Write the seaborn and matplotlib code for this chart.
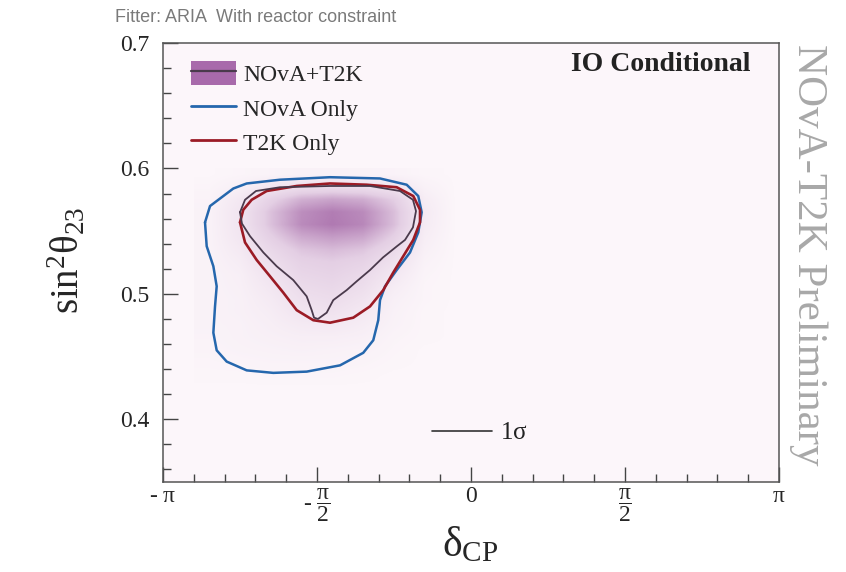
import numpy as np
import pandas as pd
import matplotlib
matplotlib.use('Agg')
import matplotlib.pyplot as plt
from matplotlib.colors import LinearSegmentedColormap
from matplotlib.patches import Rectangle
from matplotlib.lines import Line2D
from matplotlib.ticker import MultipleLocator
import seaborn as sns

sns.set_style('ticks')
plt.rcParams['font.family'] = ['Liberation Serif', 'DejaVu Serif']
plt.rcParams['mathtext.fontset'] = 'custom'
plt.rcParams['mathtext.rm'] = 'Liberation Serif'
plt.rcParams['mathtext.it'] = 'Liberation Serif:italic'
plt.rcParams['mathtext.default'] = 'rm'

# ---- data ----
# 2D posterior (NOvA+T2K), relative density per bin
dcp_centers = [-2.67, -2.36, -2.04, -1.73, -1.41, -1.10, -0.79, -0.47, -0.16]
s23_centers = [0.595, 0.585, 0.575, 0.565, 0.555, 0.545, 0.535, 0.525, 0.515,
               0.505, 0.495, 0.485, 0.475, 0.465, 0.455, 0.445, 0.435, 0.425]
density = [
    [0.00, 0.02, 0.04, 0.06, 0.06, 0.05, 0.04, 0.01, 0.00],
    [0.02, 0.08, 0.20, 0.30, 0.32, 0.30, 0.22, 0.06, 0.00],
    [0.04, 0.18, 0.45, 0.68, 0.75, 0.70, 0.50, 0.12, 0.00],
    [0.05, 0.22, 0.58, 0.88, 0.98, 0.90, 0.60, 0.15, 0.00],
    [0.05, 0.22, 0.58, 0.90, 1.00, 0.92, 0.60, 0.14, 0.00],
    [0.05, 0.20, 0.48, 0.72, 0.80, 0.74, 0.48, 0.11, 0.00],
    [0.05, 0.16, 0.38, 0.56, 0.62, 0.56, 0.36, 0.08, 0.00],
    [0.05, 0.12, 0.30, 0.46, 0.50, 0.44, 0.26, 0.05, 0.00],
    [0.05, 0.09, 0.24, 0.40, 0.44, 0.36, 0.18, 0.03, 0.00],
    [0.05, 0.08, 0.19, 0.34, 0.38, 0.30, 0.12, 0.02, 0.00],
    [0.05, 0.07, 0.15, 0.28, 0.32, 0.23, 0.08, 0.02, 0.00],
    [0.05, 0.07, 0.12, 0.22, 0.25, 0.17, 0.06, 0.01, 0.00],
    [0.05, 0.06, 0.10, 0.15, 0.17, 0.12, 0.05, 0.01, 0.00],
    [0.04, 0.06, 0.08, 0.10, 0.10, 0.08, 0.03, 0.01, 0.00],
    [0.03, 0.05, 0.06, 0.07, 0.06, 0.05, 0.02, 0.00, 0.00],
    [0.02, 0.03, 0.04, 0.04, 0.04, 0.03, 0.01, 0.00, 0.00],
    [0.01, 0.01, 0.02, 0.02, 0.02, 0.01, 0.00, 0.00, 0.00],
    [0.00, 0.00, 0.00, 0.00, 0.00, 0.00, 0.00, 0.00, 0.00],
]

# 1 sigma contours (delta_CP, sin^2 theta_23)
nova_dcp = [-2.713, -2.662, -2.424, -2.288, -1.948, -1.438, -0.928, -0.656, -0.538,
            -0.503, -0.538, -0.622, -0.758, -0.877, -0.928, -0.946, -0.997, -1.099,
            -1.336, -1.676, -2.017, -2.288, -2.492, -2.594, -2.628, -2.611, -2.594,
            -2.628, -2.696]
nova_s23 = [0.557, 0.570, 0.584, 0.588, 0.591, 0.593, 0.592, 0.587, 0.578,
            0.565, 0.549, 0.533, 0.519, 0.506, 0.495, 0.479, 0.463, 0.453,
            0.443, 0.438, 0.437, 0.439, 0.446, 0.455, 0.469, 0.490, 0.506,
            0.522, 0.538]

t2k_dcp = [-2.356, -2.323, -2.237, -2.084, -1.778, -1.438, -1.064, -0.758, -0.589,
           -0.520, -0.520, -0.589, -0.691, -0.793, -0.895, -1.030, -1.201, -1.438,
           -1.609, -1.778, -1.915, -2.050, -2.186, -2.305]
t2k_s23 = [0.557, 0.567, 0.575, 0.582, 0.586, 0.588, 0.587, 0.585, 0.578,
           0.567, 0.557, 0.543, 0.530, 0.517, 0.503, 0.490, 0.481, 0.477,
           0.479, 0.487, 0.501, 0.514, 0.527, 0.541]

joint_dcp = [-2.356, -2.305, -2.193, -1.948, -1.438, -1.030, -0.724, -0.592, -0.561,
             -0.592, -0.673, -0.755, -0.898, -1.030, -1.166, -1.268, -1.405, -1.472,
             -1.561, -1.601, -1.625, -1.676, -1.813, -1.982, -2.118, -2.254, -2.336]
joint_s23 = [0.565, 0.575, 0.582, 0.585, 0.586, 0.586, 0.582, 0.575, 0.566,
             0.553, 0.543, 0.538, 0.529, 0.519, 0.510, 0.503, 0.495, 0.485,
             0.480, 0.481, 0.487, 0.498, 0.511, 0.522, 0.533, 0.546, 0.556]

xtick_vals = [-np.pi, -np.pi / 2, 0, np.pi / 2, np.pi]
xtick_labels = [r'- $\pi$', r'- $\dfrac{\pi}{2}$', '0', r'$\dfrac{\pi}{2}$', r'$\pi$']
ytick_vals = [0.4, 0.5, 0.6, 0.7]

blue = '#2567ad'
red = '#9b1b25'
dark = '#4a3a4c'
purple_cmap = LinearSegmentedColormap.from_list(
    'post', ['#fcf6fa', '#e4cfe4', '#b07ab2'])

fig = plt.figure(figsize=(8.46, 5.72), dpi=100)
ax = fig.add_axes([163 / 846, 1 - 482 / 572, 616 / 846, 439 / 572])
ax.set_facecolor('#fcf6fa')

dx = np.pi / 10
dy = 0.01
ax.imshow(np.array(density), cmap=purple_cmap, vmin=0, vmax=1,
          interpolation='bilinear', aspect='auto', origin='upper',
          extent=[dcp_centers[0] - dx / 2, dcp_centers[-1] + dx / 2,
                  s23_centers[-1] - dy / 2, s23_centers[0] + dy / 2], zorder=1)


def closed(xs, ys):
    return pd.DataFrame({'dcp': list(xs) + [xs[0]], 's23': list(ys) + [ys[0]]})


for xs, ys, col, lw in [(nova_dcp, nova_s23, blue, 1.8),
                        (t2k_dcp, t2k_s23, red, 1.9),
                        (joint_dcp, joint_s23, dark, 1.3)]:
    sns.lineplot(data=closed(xs, ys), x='dcp', y='s23', sort=False,
                 estimator=None, color=col, lw=lw, ax=ax, zorder=3,
                 solid_joinstyle='round')

ax.set_xlim(-np.pi, np.pi)
ax.set_ylim(0.35, 0.70)
ax.set_xticks(xtick_vals)
ax.set_xticklabels(xtick_labels, fontsize=17, va='top')
ax.set_yticks(ytick_vals)
ax.set_yticklabels([f'{v:.1f}' for v in ytick_vals], fontsize=17)
ax.xaxis.set_minor_locator(MultipleLocator(np.pi / 10))
ax.yaxis.set_minor_locator(MultipleLocator(0.02))
ax.tick_params(which='both', direction='in', top=False, right=False,
               color='#444444', width=1)
ax.tick_params(which='major', length=11)
ax.tick_params(axis='y', which='major', pad=10)
ax.tick_params(axis='x', which='major', pad=3)
ax.tick_params(which='minor', length=6)
for sp in ax.spines.values():
    sp.set_color('#555555')
    sp.set_linewidth(1.1)

ax.set_xlabel(r'$\delta_{\mathrm{CP}}$', fontsize=30)
ax.xaxis.set_label_coords((470 - 163) / 616, -(526 - 482) / 439)
ax.set_ylabel(r'$\mathrm{sin}^{2}\mathrm{\theta}_{23}$', fontsize=28)
ax.yaxis.set_label_coords(-(163 - 88) / 616, (482 - 260) / 439)

# legend
handles = [
    (Rectangle((0, 0), 1, 1, facecolor='#a86aab', edgecolor='none'),
     Line2D([], [], color=dark, lw=1.6)),
    Line2D([], [], color=blue, lw=2),
    Line2D([], [], color=red, lw=2),
]
ax.legend(handles, ['NOvA+T2K', 'NOvA Only', 'T2K Only'],
          loc='upper left', bbox_to_anchor=(0.03, 0.98), frameon=False,
          fontsize=17, handlelength=1.9, handleheight=1.2, labelspacing=0.4,
          handletextpad=0.3, borderaxespad=0)

ax.text(0.953, 0.95, 'IO Conditional', transform=ax.transAxes, ha='right',
        va='center', fontsize=20, fontweight='bold', color='#222222')

# 1 sigma key
ax.add_line(Line2D([(432 - 163) / 616, (492 - 163) / 616],
                   [(482 - 431) / 439] * 2, transform=ax.transAxes,
                   color='#333333', lw=1.2))
ax.text((500 - 163) / 616, (482 - 433) / 439, r'1$\sigma$', transform=ax.transAxes,
        ha='left', va='center', fontsize=18, color='#222222')

fig.text(115 / 846, 1 - 18 / 572, 'Fitter: ARIA  With reactor constraint',
         family=['Liberation Sans Narrow', 'Liberation Sans'], fontsize=13,
         color='#7a7a7a', ha='left', va='center')
fig.text(808 / 846, 1 - 255 / 572, 'NOvA-T2K Preliminary', rotation=-90,
         ha='center', va='center', fontsize=31, color='#a8a8a8')

fig.savefig('out.png', dpi=100, facecolor='white')
